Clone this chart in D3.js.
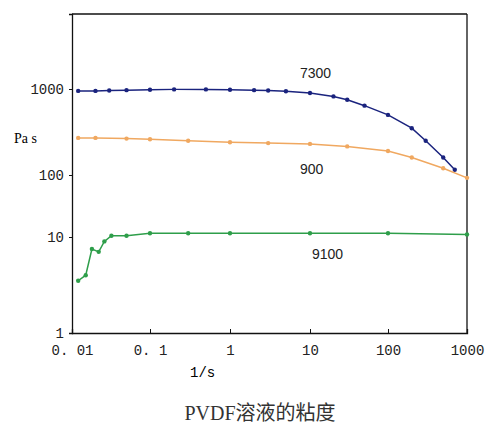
<!DOCTYPE html>
<html>
<head>
<meta charset="utf-8">
<script src="https://d3js.org/d3.v7.min.js"></script>
<style>body{margin:0;background:#fff}</style>
</head>
<body>
<div id="chart"></div>
<script>
// data
var rate7300 = [0.012,0.02,0.03,0.05,0.1,0.2,0.5,1,2,3,5,10,20,30,50,100,200,300,500,700];
var visc7300 = [950,950,960,970,980,990,990,980,970,960,940,900,820,750,640,500,350,250,160,115];
var rate900 = [0.012,0.02,0.05,0.1,0.3,1,3,10,30,100,200,500,1000];
var visc900 = [270,270,265,260,250,240,235,230,215,190,160,120,90];
var rate9100 = [0.012,0.015,0.018,0.022,0.026,0.032,0.05,0.1,0.3,1,10,100,1000];
var visc9100 = [3.5,4,7.5,7,9,10.5,10.5,11.5,11.5,11.5,11.5,11.5,11];
var xTicks = [0.01,0.1,1,10,100,1000];
var yTicks = [1,10,100,1000];

var svg = d3.select("#chart").append("svg").attr("width",500).attr("height",439);

// the scanned axes are unevenly spaced, so use piecewise log scales
var x = d3.scaleLog().domain([0.01,0.1,1,10,100,1000]).range([72,150,230,310,388,467]);
var y = d3.scaleLog().domain([1,10,100,1000,10000]).range([333,237,175,89,14]);

var font = "'Liberation Mono', monospace";
svg.append("line").attr("x1",72).attr("x2",467).attr("y1",14).attr("y2",14).attr("stroke","#111").attr("stroke-width",1.3);
svg.append("line").attr("x1",467).attr("x2",467).attr("y1",14).attr("y2",333).attr("stroke","#111").attr("stroke-width",1.3);

var xa = svg.append("g").attr("transform","translate(0,333)")
  .call(d3.axisBottom(x).tickValues(xTicks).tickFormat(function(d){return d<1? String(d).replace(".",". "):String(d);}).tickSize(-4).tickPadding(12));
var ya = svg.append("g").attr("transform","translate(72,0)")
  .call(d3.axisLeft(y).tickValues(yTicks).tickFormat(function(d){return String(d);}).tickSize(3).tickPadding(5));
[xa,ya].forEach(function(a){
  a.select(".domain").attr("stroke","#111").attr("stroke-width",1.3);
  a.selectAll("line").attr("stroke","#111");
  a.selectAll("text").attr("font-family",font).attr("font-size",14).attr("fill","#222");
});

var series = [
  {r:rate7300,v:visc7300,c:"#1a237e"},
  {r:rate900,v:visc900,c:"#f0a860"},
  {r:rate9100,v:visc9100,c:"#2e9e4a"}
];
var line = d3.line().x(function(d){return x(d[0]);}).y(function(d){return y(d[1]);});
series.forEach(function(s){
  var pts = d3.zip(s.r,s.v);
  svg.append("path").datum(pts).attr("d",line).attr("fill","none").attr("stroke",s.c).attr("stroke-width",1.5);
  svg.append("g").selectAll("circle").data(pts).enter().append("circle")
    .attr("cx",function(d){return x(d[0]);}).attr("cy",function(d){return y(d[1]);})
    .attr("r",2.2).attr("fill",s.c);
});

var labels = [["7300",300,78],["900",300,174],["9100",312,259]];
svg.selectAll(".lab").data(labels).enter().append("text")
  .attr("x",function(d){return d[1];}).attr("y",function(d){return d[2];})
  .attr("font-family","'Liberation Sans', sans-serif").attr("font-size",14).attr("fill","#222")
  .text(function(d){return d[0];});

svg.append("text").attr("x",14).attr("y",143).attr("font-family","'Liberation Serif', serif").attr("font-size",14).text("Pa s");
svg.append("text").attr("x",190).attr("y",377).attr("font-family",font).attr("font-size",14).text("1/s");
svg.append("text").attr("x",260).attr("y",420).attr("text-anchor","middle")
  .attr("font-family","'Liberation Serif','Noto Sans CJK SC',serif").attr("font-size",20).attr("fill","#333").text("PVDF溶液的粘度");
</script>
</body>
</html>
